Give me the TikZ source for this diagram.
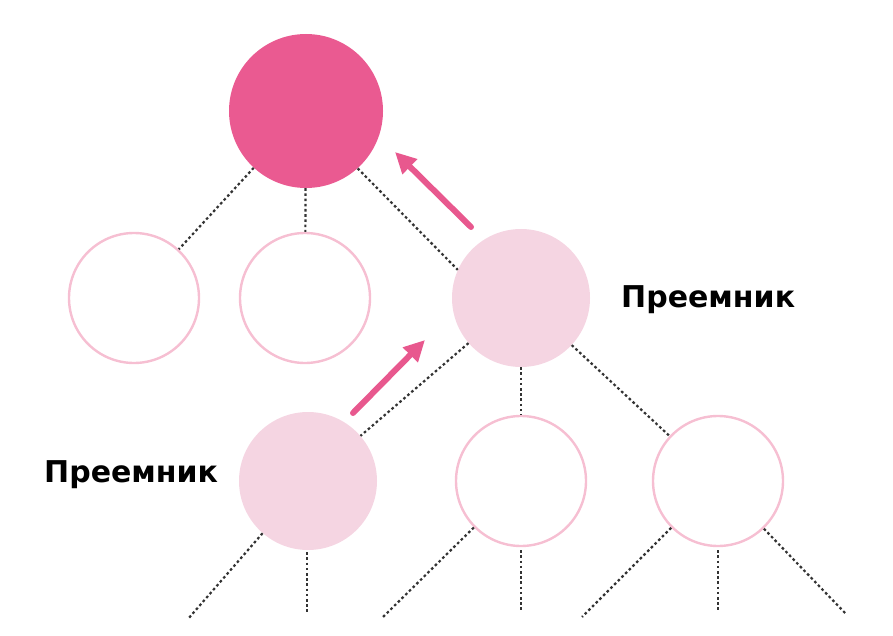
\documentclass[tikz,border=0pt]{standalone}
\usepackage{fontspec}
\setmainfont{DejaVu Sans}
\usetikzlibrary{arrows.meta}
\definecolor{rootpink}{HTML}{EA5A91}
\definecolor{softpink}{HTML}{F5D5E2}
\definecolor{rimpink}{HTML}{F6BFD2}
\definecolor{arrowpink}{HTML}{E8588E}
\tikzset{
  rootnode/.style={circle,fill=rootpink,minimum size=154pt,inner sep=0pt},
  succnode/.style={circle,fill=softpink,minimum size=138pt,inner sep=0pt},
  emptynode/.style={circle,draw=rimpink,line width=2.4pt,minimum size=130pt,inner sep=0pt},
  link/.style={black!80,line width=2.2pt,dash pattern=on 2.6pt off 2.6pt},
  move/.style={arrowpink,line width=6pt,line cap=round,-{Triangle[length=21pt,width=20pt]}},
  tag/.style={font=\bfseries\fontsize{30}{36}\selectfont,inner sep=0pt,anchor=base west}
}

\begin{document}
\begin{tikzpicture}[x=1pt,y=-1pt]
        \useasboundingbox (0,0) rectangle (893,636);

          % tree nodes
          \node[rootnode] (top) at (306,111) {};
          \node[emptynode] (l1) at (134,298) {};
          \node[emptynode] (m1) at (305,298) {};
          \node[succnode] (s1) at (521,298) {};
          \node[succnode] (s2) at (308,481) {};
          \node[emptynode] (m2) at (521,481) {};
          \node[emptynode] (r2) at (718,481) {};

          % free ends at the bottom
          \coordinate (e1) at (188,619);
          \coordinate (e2) at (307,612);
          \coordinate (e3) at (383,617);
          \coordinate (e4) at (521,610);
          \coordinate (e5) at (582,617);
          \coordinate (e6) at (718,610);
          \coordinate (e7) at (846,614);

          \draw[link] (top) -- (l1);
          \draw[link] (top) -- (m1);
          \draw[link] (top.-48) -- (s1.156);
          \draw[link] (s1) -- (s2);
          \draw[link] (s1) -- (m2);
          \draw[link] (s1) -- (r2);

          \draw[link] (s2) -- (e1);
          \draw[link] (s2.south) ++(-1,2) -- (e2);
          \draw[link] (m2) -- (e3);
          \draw[link] (m2.south) ++(0,3) -- (e4);
          \draw[link] (r2) -- (e5);
          \draw[link] (r2.south) ++(0,3) -- (e6);
          \draw[link] (r2) -- (e7);

          % arrows
          \coordinate (a1) at (471,227);
          \coordinate (b1) at (395,152);
          \coordinate (a2) at (353,413);
          \coordinate (b2) at (425,340);
          \draw[move] (a1) -- (b1);
          \draw[move] (a2) -- (b2);

          \node[tag] (t1) at (621,307) {Преемник};
          \node[tag] (t2) at (44,482) {Преемник};
        \end{tikzpicture}
\end{document}
